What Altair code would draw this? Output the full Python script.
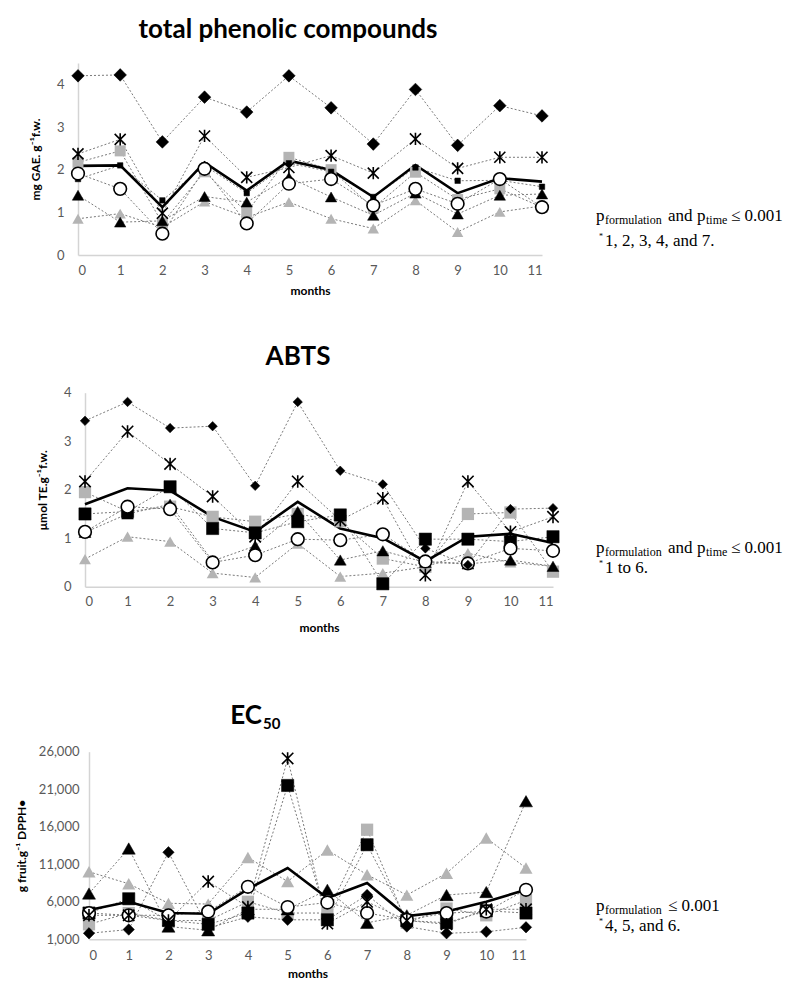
import altair as alt
import pandas as pd

months = list(range(12))
series = ["diamond", "asterisk", "black square", "gray square", "open circle", "black triangle", "gray triangle"]

# total phenolic compounds (mg GAE g-1 f.w.)
tpc_diamond = [4.20, 4.22, 2.65, 3.70, 3.35, 4.20, 3.45, 2.60, 3.88, 2.57, 3.50, 3.26]
tpc_asterisk = [2.37, 2.71, 0.98, 2.79, 1.82, 2.05, 2.33, 1.92, 2.72, 2.03, 2.29, 2.29]
tpc_black_sq = [1.78, 2.10, 1.28, 2.10, 1.45, 2.15, 1.95, 1.36, 2.05, 1.74, 1.75, 1.60]
tpc_gray_sq = [2.17, 2.44, 0.75, 1.95, 1.00, 2.29, 2.00, 1.10, 1.94, 1.30, 1.55, 1.12]
tpc_circle = [1.91, 1.55, 0.50, 2.02, 0.74, 1.67, 1.78, 1.16, 1.55, 1.20, 1.78, 1.12]
tpc_black_tri = [1.40, 0.77, 0.80, 1.37, 1.24, 1.82, 1.36, 0.93, 1.45, 0.96, 1.40, 1.43]
tpc_gray_tri = [0.85, 0.97, 0.65, 1.25, 0.88, 1.24, 0.85, 0.62, 1.28, 0.54, 1.01, 1.15]
tpc_mean = [2.09, 2.10, 1.12, 2.17, 1.51, 2.21, 1.99, 1.36, 2.11, 1.45, 1.80, 1.72]

# ABTS (umol TE g-1 f.w.)
abts_diamond = [3.42, 3.81, 3.27, 3.31, 2.08, 3.81, 2.39, 2.11, 0.79, 0.45, 1.60, 1.62]
abts_asterisk = [2.17, 3.20, 2.53, 1.86, 1.03, 2.17, 1.37, 1.82, 0.24, 2.17, 1.13, 1.44]
abts_black_sq = [1.50, 1.55, 2.06, 1.20, 1.11, 1.34, 1.48, 0.06, 0.98, 0.98, 0.93, 1.03]
abts_gray_sq = [1.95, 1.55, 1.65, 1.44, 1.34, 1.50, 1.35, 0.58, 0.41, 1.50, 1.53, 0.31]
abts_circle = [1.13, 1.65, 1.60, 0.50, 0.65, 0.98, 0.96, 1.08, 0.52, 0.48, 0.79, 0.74]
abts_black_tri = [1.12, 1.50, 1.70, 0.53, 0.84, 1.55, 0.55, 0.74, 0.50, 0.47, 0.55, 0.42]
abts_gray_tri = [0.57, 1.03, 0.93, 0.28, 0.19, 0.89, 0.21, 0.28, 0.41, 0.69, 0.50, 0.42]
abts_mean = [1.70, 2.03, 1.98, 1.44, 1.13, 1.75, 1.20, 1.00, 0.52, 1.03, 1.09, 0.90]

# EC50 (g fruit g-1 DPPH)
ec_diamond = [1800, 2300, 12600, 2500, 4000, 3600, 3600, 6900, 2700, 1800, 2000, 2600]
ec_asterisk = [4200, 4200, 3500, 8700, 5300, 25100, 3100, 6000, 3500, 3000, 5000, 5000]
ec_black_sq = [4500, 6400, 3500, 3000, 4500, 21500, 3600, 13600, 3500, 3200, 4800, 4500]
ec_gray_sq = [3000, 4500, 3500, 3500, 6000, 4500, 4500, 15600, 3200, 5100, 4200, 6200]
ec_circle = [4500, 4200, 4200, 4700, 8000, 5300, 5900, 4500, 3600, 4500, 4700, 7600]
ec_black_tri = [7100, 13100, 2700, 2200, 5000, 5000, 7600, 3200, 4200, 6900, 7300, 19400]
ec_gray_tri = [10000, 8400, 5800, 5700, 11900, 8700, 12900, 9600, 6900, 9800, 14500, 10500]
ec_mean = [4900, 6000, 4500, 4400, 7700, 10500, 6500, 8500, 4100, 4700, 6000, 7600]

panel_titles = ["total phenolic compounds", "ABTS", "EC"]
ec_subscript = "50"
y_titles = ["mg GAE. g\u207b\u00b9f.w.", "\u03bcmol TE.g\u207b\u00b9f.w.", "g fruit.g\u207b\u00b9 DPPH\u2022"]
x_title = "months"
tpc_ticks = [0, 1, 2, 3, 4]
abts_ticks = [0, 1, 2, 3, 4]
ec_ticks = [1000, 6000, 11000, 16000, 21000, 26000]
note_p = "p"
note_form = "formulation"
note_and = "and"
note_time = "time"
note_le = "\u2264 0.001"
note_star = "*"
note_sig = ["1, 2, 3, 4, and 7.", "1 to 6.", "4, 5, and 6."]

W, H = 776, 973
M = 8  # page margin

ASTERISK = "M-0.9,-0.9L0.9,0.9M-0.9,0.9L0.9,-0.9M0,-1L0,1"
GRAY = "#b4b4b4"

marker_style = {
    "diamond": dict(shape="diamond", fill="black", stroke="black", strokeWidth=0.5),
    "asterisk": dict(shape=ASTERISK, fill="black", stroke="black", strokeWidth=1.6),
    "black square": dict(shape="square", fill="black", stroke="black", strokeWidth=0.5),
    "gray square": dict(shape="square", fill=GRAY, stroke=GRAY, strokeWidth=0),
    "open circle": dict(shape="circle", fill="white", stroke="black", strokeWidth=1.6),
    "black triangle": dict(shape="triangle-up", fill="black", stroke="black", strokeWidth=0.5),
    "gray triangle": dict(shape="triangle-up", fill=GRAY, stroke=GRAY, strokeWidth=0),
}
draw_order = ["gray triangle", "gray square", "black triangle", "black square", "open circle", "asterisk", "diamond"]


def long_df(cols):
    rows = []
    for name, vals in zip(series, cols):
        for m, v in zip(months, vals):
            rows.append({"series": name, "month": m, "value": v})
    return pd.DataFrame(rows)


def txt(s, x, y, size, font="Liberation Serif", weight="normal", align="left",
        baseline="alphabetic", color="black"):
    return alt.Chart(pd.DataFrame({"t": [s]})).mark_text(
        align=align, baseline=baseline, font=font, fontSize=size,
        fontWeight=weight, color=color
    ).encode(x=alt.value(x - M), y=alt.value(y - M), text="t:N")


def panel(cols, mean, xr, yr, ydom, yticks, yfmt, ytitle, sizes,
          ylabpad, xlabpad, xtitlepad, ytitlepad):
    df = long_df(cols)
    mdf = pd.DataFrame({"month": months, "value": mean})
    xr_p = [xr[0] - M, xr[1] - M]
    yr_p = [yr[0] - M, yr[1] - M]
    xscale = alt.Scale(domain=[0, 11], range=xr_p, nice=False, zero=False)
    yscale = alt.Scale(domain=ydom, range=yr_p, nice=False, zero=False)
    xaxis = alt.Axis(orient="bottom", offset=yr_p[0] - H, values=months, format="d",
                     grid=False, ticks=False, domainColor="#d4d4d4", domainWidth=1.5,
                     labelColor="#595959", labelFont="Lato", labelFontSize=13,
                     labelPadding=xlabpad, title=x_title, titleFont="Lato", titleFontSize=12,
                     titleFontWeight="bold", titleColor="black", titlePadding=xtitlepad)
    yaxis = alt.Axis(orient="left", offset=-xr_p[0], values=yticks, format=yfmt,
                     grid=False, ticks=False, domainColor="#d4d4d4", domainWidth=1.5,
                     labelColor="#595959", labelFont="Lato", labelFontSize=13,
                     labelPadding=ylabpad, title=ytitle, titleFont="Lato", titleFontSize=12,
                     titleFontWeight="bold", titleColor="black", titlePadding=ytitlepad)
    x = alt.X("month:Q", scale=xscale, axis=xaxis)
    y = alt.Y("value:Q", scale=yscale, axis=yaxis)

    lines = alt.Chart(df).mark_line(color="#7a7a7a", strokeWidth=1, strokeDash=[2, 2]).encode(
        x=x, y=y, detail="series:N")
    mean_line = alt.Chart(mdf).mark_line(color="black", strokeWidth=2.6).encode(
        x=alt.X("month:Q"), y=alt.Y("value:Q"))
    layers = [lines, mean_line]
    for name in draw_order:
        st = marker_style[name]
        layers.append(
            alt.Chart(df).transform_filter(alt.datum.series == name).mark_point(
                opacity=1, size=sizes[name], **st
            ).encode(x=alt.X("month:Q"), y=alt.Y("value:Q"))
        )
    return alt.layer(*layers)


p1 = panel([tpc_diamond, tpc_asterisk, tpc_black_sq, tpc_gray_sq, tpc_circle, tpc_black_tri, tpc_gray_tri],
           tpc_mean, [78, 542], [255, 63], [0, 4.5], tpc_ticks, "d", y_titles[0],
           {"diamond": 160, "asterisk": 150, "black square": 30, "gray square": 120,
            "open circle": 160, "black triangle": 130, "gray triangle": 130},
           14, 9, 8, 14)
p2 = panel([abts_diamond, abts_asterisk, abts_black_sq, abts_gray_sq, abts_circle, abts_black_tri, abts_gray_tri],
           abts_mean, [85, 553], [586.7, 392.7], [0, 4], abts_ticks, "d", y_titles[1],
           {"diamond": 90, "asterisk": 160, "black square": 150, "gray square": 150,
            "open circle": 160, "black triangle": 140, "gray triangle": 140},
           14, 9, 14, 14)
p3 = panel([ec_diamond, ec_asterisk, ec_black_sq, ec_gray_sq, ec_circle, ec_black_tri, ec_gray_tri],
           ec_mean, [89, 526], [939.3, 751.7], [1000, 26000], ec_ticks, ",.0f", y_titles[2],
           {"diamond": 130, "asterisk": 160, "black square": 150, "gray square": 150,
            "open circle": 160, "black triangle": 170, "gray triangle": 170},
           10, 10, 6, 10)

texts = [
    txt(panel_titles[0], 288, 30, 26, font="Lato", weight="bold", align="center", baseline="middle"),
    txt(panel_titles[1], 298, 357, 26, font="Lato", weight="bold", align="center", baseline="middle"),
    txt(panel_titles[2], 262, 716, 26, font="Lato", weight="bold", align="right", baseline="middle"),
    txt(ec_subscript, 263, 724, 15, font="Lato", weight="bold", align="left", baseline="middle"),
]


def notes(base, sub_gap, row2, sig, full=True):
    out = [txt(note_p, 596, base, 17),
           txt(note_form, 605, base + sub_gap, 12)]
    if full:
        out += [txt(note_and, 668, base, 17),
                txt(note_p, 697, base, 17),
                txt(note_time, 706, base + sub_gap, 12),
                txt(note_le, 731, base, 17)]
    else:
        out += [txt(note_le, 668, base, 17)]
    out += [txt(note_star, 599, row2 - 7, 8),
            txt(sig, 605, row2, 17)]
    return out


texts += notes(221, 3, 246, note_sig[0])
texts += notes(553, 3, 573, note_sig[1])
texts += notes(911, 3, 931, note_sig[2], full=False)

chart = alt.layer(p1, p2, p3, *texts).resolve_scale(
    x="independent", y="independent"
).properties(
    width=W, height=H, padding=0, autosize=alt.AutoSizeParams(type="none")
).configure_view(stroke=None)

chart.save("out.html", embed_options={"renderer": "svg", "actions": False})
